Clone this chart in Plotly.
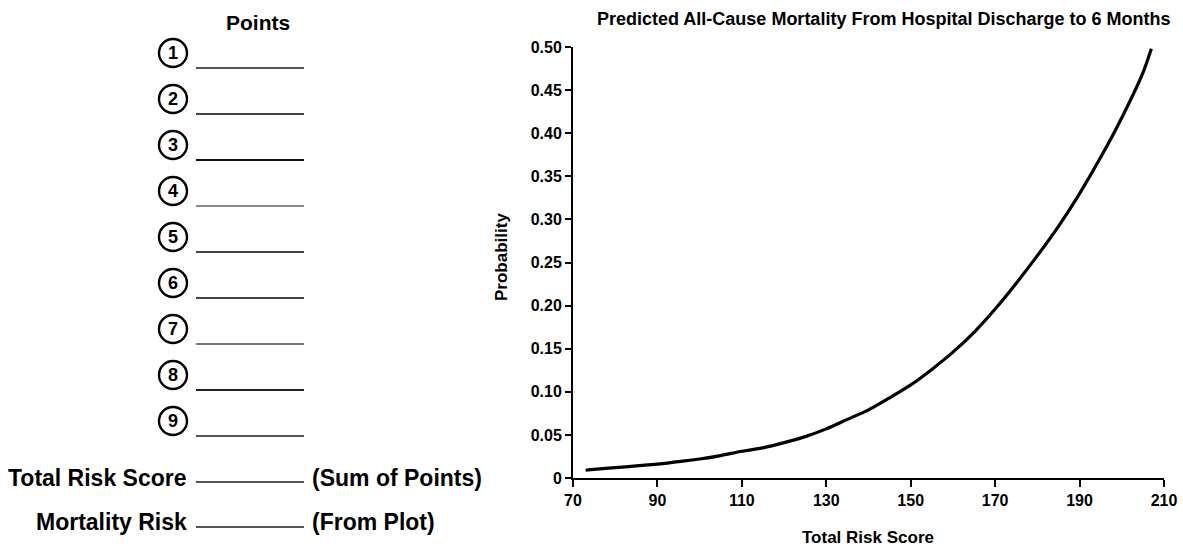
import plotly.graph_objects as go

W, H = 1183, 548

# Data
score = [73, 75, 80, 85, 90, 95, 100, 105, 110, 115, 120, 125, 130, 135, 140,
         145, 150, 155, 160, 165, 170, 175, 180, 185, 190, 195, 200, 205, 207]
prob = [0.009, 0.010, 0.012, 0.014, 0.016, 0.019, 0.022, 0.026, 0.031, 0.035,
        0.041, 0.048, 0.057, 0.068, 0.079, 0.093, 0.108, 0.126, 0.146, 0.169,
        0.196, 0.226, 0.258, 0.292, 0.330, 0.372, 0.418, 0.470, 0.498]

x_ticks = [70, 90, 110, 130, 150, 170, 190, 210]
y_ticks = [0, 0.05, 0.10, 0.15, 0.20, 0.25, 0.30, 0.35, 0.40, 0.45, 0.50]
y_ticktext = ["0", "0.05", "0.10", "0.15", "0.20", "0.25", "0.30", "0.35",
              "0.40", "0.45", "0.50"]

item_labels = ["1", "2", "3", "4", "5", "6", "7", "8", "9"]
blank_colors = ["#555", "#444", "#111", "#888", "#444", "#444", "#777", "#222", "#555"]

FONT = "Liberation Sans"


def px(x):
    return x / W


def py(y):
    return 1 - y / H


fig = go.Figure()
fig.add_trace(go.Scatter(x=score, y=prob, mode="lines",
                         line=dict(color="black", width=3.2, shape="spline", smoothing=0.8),
                         hoverinfo="skip", showlegend=False))

shapes = []
annotations = []

# Left panel
annotations.append(dict(x=px(258), y=py(23), xref="paper", yref="paper",
                        text="Points", showarrow=False, xanchor="center", yanchor="middle",
                        font=dict(family=FONT, size=21, color="black", weight="bold")))

for i, lab in enumerate(item_labels):
    cy = 53 + 46 * i
    cx = 173
    r = 14
    shapes.append(dict(type="circle", xref="paper", yref="paper",
                       x0=px(cx - r), x1=px(cx + r), y0=py(cy + r), y1=py(cy - r),
                       line=dict(color="black", width=2.4)))
    annotations.append(dict(x=px(cx), y=py(cy), xref="paper", yref="paper",
                            text=lab, showarrow=False, xanchor="center", yanchor="middle",
                            font=dict(family=FONT, size=18, color="black", weight="bold")))
    ly = 68 + 46 * i
    shapes.append(dict(type="line", xref="paper", yref="paper",
                       x0=px(196), x1=px(304), y0=py(ly), y1=py(ly),
                       line=dict(color=blank_colors[i], width=2)))

for text, note, ty, ly in [("Total Risk Score", "(Sum of Points)", 478, 482),
                           ("Mortality Risk", "(From Plot)", 522, 527)]:
    annotations.append(dict(x=px(189), y=py(ty), xref="paper", yref="paper",
                            text=text, showarrow=False, xanchor="right", yanchor="middle",
                            font=dict(family=FONT, size=23, color="black", weight="bold")))
    annotations.append(dict(x=px(310), y=py(ty), xref="paper", yref="paper",
                            text=note, showarrow=False, xanchor="left", yanchor="middle",
                            font=dict(family=FONT, size=23, color="black", weight="bold")))
    shapes.append(dict(type="line", xref="paper", yref="paper",
                       x0=px(196), x1=px(304), y0=py(ly), y1=py(ly),
                       line=dict(color="#555", width=2)))

# Chart title and axis titles
annotations.append(dict(x=px(883), y=py(19), xref="paper", yref="paper",
                        text="Predicted All-Cause Mortality From Hospital Discharge to 6 Months",
                        showarrow=False, xanchor="center", yanchor="middle",
                        font=dict(family=FONT, size=18, color="black", weight="bold")))
annotations.append(dict(x=px(868), y=py(537), xref="paper", yref="paper",
                        text="Total Risk Score", showarrow=False,
                        xanchor="center", yanchor="middle",
                        font=dict(family=FONT, size=17, color="black", weight="bold")))
annotations.append(dict(x=px(501), y=py(257), xref="paper", yref="paper",
                        text="Probability", showarrow=False, textangle=-90,
                        xanchor="center", yanchor="middle",
                        font=dict(family=FONT, size=17, color="black", weight="bold")))

fig.update_layout(
    width=W, height=H,
    margin=dict(l=0, r=0, t=0, b=0),
    paper_bgcolor="white", plot_bgcolor="white",
    shapes=shapes, annotations=annotations,
    showlegend=False,
    xaxis=dict(domain=[px(573), px(1164)], range=[70, 210],
               tickvals=x_ticks, ticktext=[str(v) for v in x_ticks],
               showline=True, linecolor="black", linewidth=2,
               ticks="outside", ticklen=7, tickwidth=2, tickcolor="black",
               showgrid=False, zeroline=False, automargin=False,
               tickfont=dict(family=FONT, size=16, color="black", weight="bold")),
    yaxis=dict(domain=[py(478), py(47)], range=[0, 0.5],
               tickvals=y_ticks, ticktext=y_ticktext,
               showline=True, linecolor="black", linewidth=2,
               ticks="outside", ticklen=6, tickwidth=2, tickcolor="black",
               showgrid=False, zeroline=False, automargin=False,
               tickfont=dict(family=FONT, size=16, color="black", weight="bold")),
)

fig.write_html("out.html",
               config={"displayModeBar": False},
               post_script="document.body.style.margin='0';document.body.style.overflow='hidden';")
